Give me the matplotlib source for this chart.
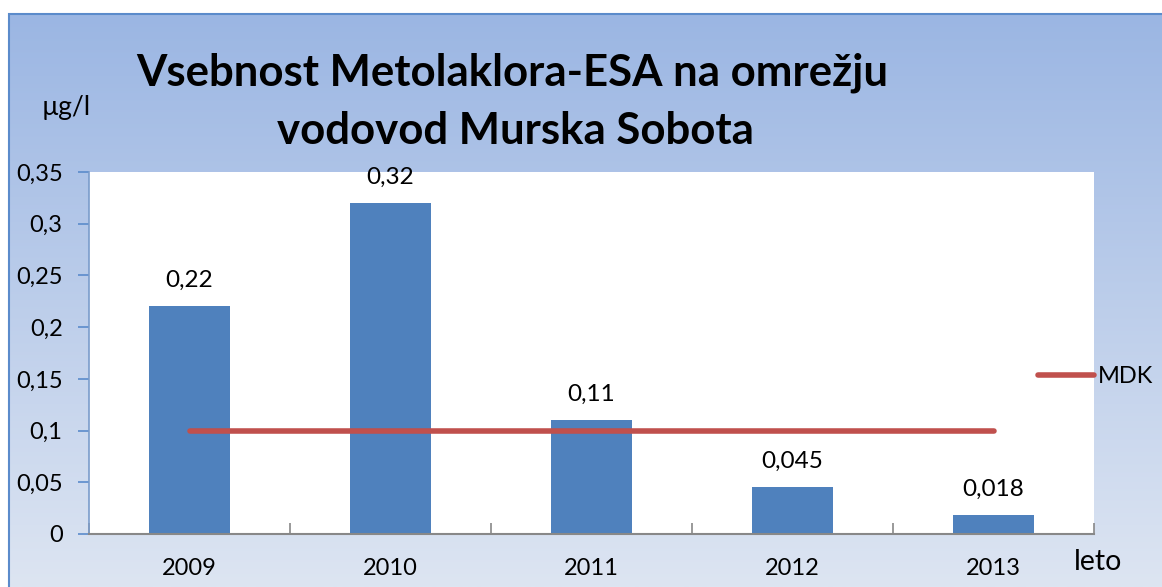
import numpy as np
import matplotlib
matplotlib.use("Agg")
import matplotlib.pyplot as plt
from matplotlib.patches import Rectangle
from matplotlib.ticker import FixedLocator, FuncFormatter

years = ["2009", "2010", "2011", "2012", "2013"]
values = [0.22, 0.32, 0.11, 0.045, 0.018]
value_labels = ["0,22", "0,32", "0,11", "0,045", "0,018"]
mdk = [0.1, 0.1, 0.1, 0.1, 0.1]
yticks = [0, 0.05, 0.1, 0.15, 0.2, 0.25, 0.3, 0.35]
ytick_labels = ["0", "0,05", "0,1", "0,15", "0,2", "0,25", "0,3", "0,35"]

plt.rcParams['font.family'] = ['Lato', 'DejaVu Sans']

W, H = 1162, 587
fig = plt.figure(figsize=(W / 100, H / 100), dpi=100)
fig.patch.set_facecolor("white")

# gradient background of chart frame
bg = fig.add_axes([9 / W, 0, 1 - 9 / W, 1 - 14 / H], zorder=0)
top = np.array([155, 182, 227]) / 255
bot = np.array([221, 229, 242]) / 255
t = np.linspace(0, 1, 256)[:, None]
grad = (top[None, :] * (1 - t) + bot[None, :] * t)[:, None, :]
bg.imshow(grad, aspect="auto", extent=[0, 1, 0, 1], origin="upper")
bg.set_xlim(0, 1); bg.set_ylim(0, 1)
bg.axis("off")
fig.add_artist(Rectangle((9 / W, -0.01), 1.1, 1 - 14 / H + 0.01, transform=fig.transFigure,
                         fill=False, edgecolor="#5B8BCB", linewidth=1.5, zorder=1))

ax = fig.add_axes([89 / W, 1 - 534 / H, (1094 - 89) / W, (534 - 172) / H], zorder=2)
ax.set_facecolor("white")
x = np.arange(len(years))
ax.bar(x, values, width=0.4, color="#4F81BD", zorder=2)
ax.plot(x, mdk, color="#C0504D", linewidth=4, solid_capstyle="round", zorder=3, label="MDK")
for xi, v, lab in zip(x, values, value_labels):
    ax.text(xi, v + 0.025, lab, ha="center", va="center", fontsize=17.5)

ax.set_xlim(-0.5, 4.5)
ax.set_ylim(0, 0.35)
ax.set_yticks(yticks)
ax.set_yticklabels(ytick_labels, fontsize=17)
ax.xaxis.set_major_locator(FixedLocator(np.arange(-0.5, 5.0, 1.0)))
ax.xaxis.set_major_formatter(FuncFormatter(lambda v, p: ""))
ax.xaxis.set_minor_locator(FixedLocator(x))
ax.set_xticklabels(years, minor=True, fontsize=17)
ax.tick_params(axis="x", which="major", direction="in", length=8, color="#888888", width=1.2)
ax.tick_params(axis="x", which="minor", direction="in", length=5, color="#888888", width=1.2, pad=17)
ax.tick_params(axis="y", direction="out", length=8, color="#5B8BCB", width=1.2, pad=11)
for s in ["top", "right"]:
    ax.spines[s].set_visible(False)
ax.spines["bottom"].set_color("#888888")
ax.spines["bottom"].set_linewidth(1.5)
ax.spines["left"].set_color("#7A9CCB")
ax.spines["left"].set_linewidth(1.2)

leg = ax.legend(loc="center left", bbox_to_anchor=(0.944, 0.435), frameon=False,
                fontsize=17, handlelength=2.4, handletextpad=0.15, borderaxespad=0,
                borderpad=0)

fig.text(512 / W, 1 - 73 / H, "Vsebnost Metolaklora-ESA na omrežju", ha="center", va="center",
         fontsize=31.5, fontweight="bold")
fig.text(515 / W, 1 - 131 / H, "vodovod Murska Sobota", ha="center", va="center",
         fontsize=31.5, fontweight="bold")
fig.text(66 / W, 1 - 107 / H, "µg/l", ha="center", va="center", fontsize=19)
fig.text(1098 / W, 1 - 562 / H, "leto", ha="center", va="center", fontsize=20.5)

fig.savefig("out.png", dpi=100)
